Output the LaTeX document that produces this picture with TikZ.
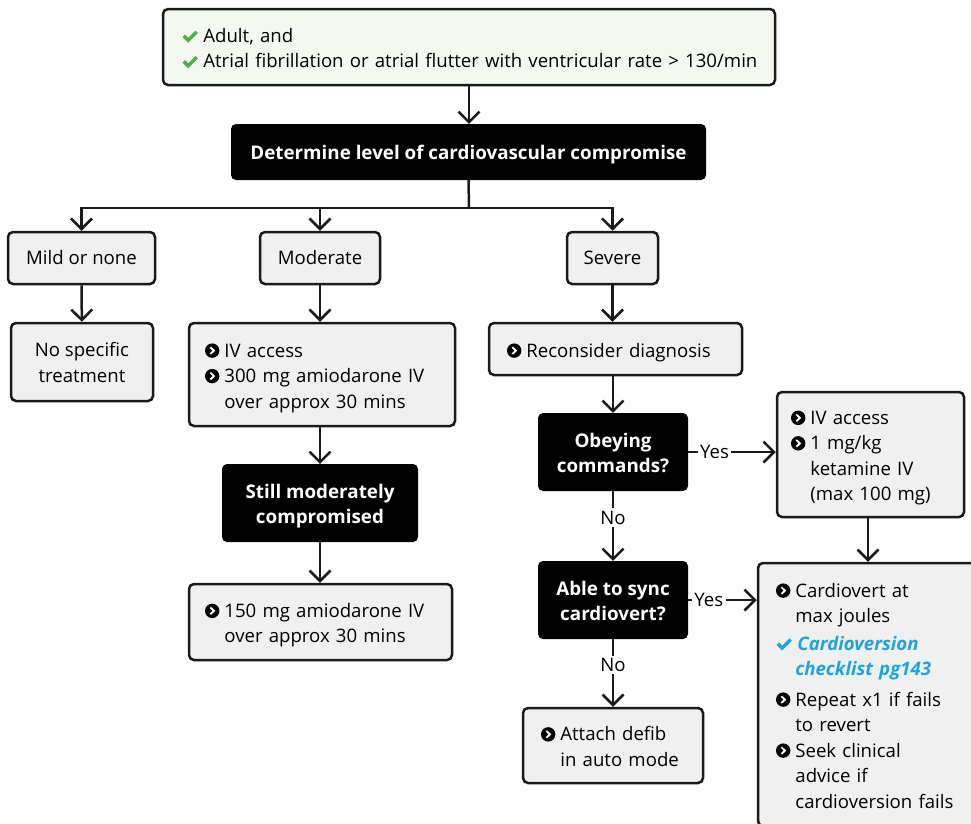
\documentclass[tikz,border=0pt]{standalone}
\usepackage{fontspec}
\setmainfont{Open Sans}
\usetikzlibrary{arrows.meta}
\definecolor{boxfill}{HTML}{F0F0F0}
\definecolor{topfill}{HTML}{F3F8F1}
\definecolor{tickgreen}{HTML}{4DAF4A}
\definecolor{linkblue}{HTML}{1CA4E0}
\definecolor{edge}{HTML}{1A1A1A}
% round black bullet with a white chevron
\newcommand\bul{\tikz[baseline=-6.5pt,x=1pt,y=1pt,sharp corners]{\fill[black] (0,0) circle (7.2);
  \draw[white,line width=1.9pt,miter limit=4] (-1.9,3.4) -- (1.7,0) -- (-1.9,-3.4);}\hspace{5pt}}
\newcommand\ind{\hphantom{\bul}}
% check mark
\newcommand\tick[1][tickgreen]{\tikz[baseline=0pt,x=1pt,y=1pt,sharp corners]{\draw[#1,line width=3.4pt] (0.5,6.5) -- (5,2) -- (13.5,10.5);}\hspace{5pt}}
% stacked lines, nudged down to sit optically centred in their box
\newcommand\lines[1]{\raisebox{-3pt}[\height][\depth]{\begin{tabular}{@{}l@{}}#1\end{tabular}}}
\newcommand\clines[1]{\raisebox{-2.5pt}[\height][\depth]{\begin{tabular}{@{}c@{}}#1\end{tabular}}}
\begin{document}
\begin{tikzpicture}[x=1pt,y=-1pt,
  txt/.style={font=\fontsize{18.6}{25.5}\selectfont},
  box/.style={txt,draw=edge,line width=2.5pt,rounded corners=5pt,fill=boxfill,inner sep=0pt,align=center},
  lbox/.style={box,align=left},
  dark/.style={txt,fill=black,rounded corners=5pt,inner sep=0pt,align=center,text=white,font=\fontsize{18.8}{25}\selectfont\bfseries},
  arr/.style={line width=2.5pt,draw=edge,-{Straight Barb[length=10.5pt,width=21pt]}},
  link/.style={line width=2.5pt,draw=edge},
  lbl/.style={txt,fill=white,inner sep=2.5pt}]
\useasboundingbox (0,0) rectangle (971,823);

% entry criteria
\node[lbox,fill=topfill,minimum width=612pt,minimum height=76pt,text width=574pt,inner xsep=19pt] (top) at (469,47)
  {\lines{\tick Adult, and\\ \tick Atrial fibrillation or atrial flutter with ventricular rate > 130/min}};
\node[dark,minimum width=475pt,minimum height=56pt] (level) at (468.5,152) {\clines{Determine level of cardiovascular compromise}};

% three grades
\node[box,minimum width=147pt,minimum height=52pt] (mild) at (81.5,258) {Mild or none};
\node[box,minimum width=120pt,minimum height=52pt] (moderate) at (320,258) {Moderate};
\node[box,minimum width=91pt,minimum height=52pt] (severe) at (612.5,258) {Severe};

% mild branch
\node[box,minimum width=142pt,minimum height=78pt] (nospec) at (82,362) {\clines{No specific\\treatment}};

% moderate branch
\node[lbox,minimum width=266pt,minimum height=103pt,text width=234pt,inner xsep=16pt] (iv1) at (322,374.5)
  {\lines{\bul IV access\\ \bul 300 mg amiodarone IV\\ \ind over approx 30 mins}};
\node[dark,minimum width=196pt,minimum height=78pt] (still) at (320,503) {\clines{Still moderately\\compromised}};
\node[lbox,minimum width=263pt,minimum height=76pt,text width=231pt,inner xsep=16pt] (amio) at (320.5,622)
  {\lines{\bul 150 mg amiodarone IV\\ \ind over approx 30 mins}};

% severe branch
\node[lbox,minimum width=253pt,minimum height=52pt,text width=217pt,inner xsep=18pt] (recon) at (615.5,349)
  {\lines{\bul Reconsider diagnosis}};
\node[dark,minimum width=150pt,minimum height=78pt] (obey) at (613,452) {\clines{Obeying\\commands?}};
\node[lbox,minimum width=187pt,minimum height=125pt,text width=159pt,inner xsep=14pt] (ket) at (870.5,454.5)
  {\lines{\bul IV access\\ \bul 1 mg/kg\\ \ind ketamine IV\\ \ind (max 100 mg)}};
\node[dark,minimum width=150pt,minimum height=78pt] (sync) at (613,600) {\clines{Able to sync\\cardiovert?}};
\node[lbox,minimum width=218pt,minimum height=263pt,text width=182pt,inner xsep=18pt] (cardio) at (867,694.5)
  {\lines{\bul Cardiovert at\\ \ind max joules\\[2pt]
   {\color{linkblue}\tick[linkblue]\bfseries\itshape Cardioversion}\\
   \ind{\color{linkblue}\bfseries\itshape checklist pg143}\\[5pt]
   \bul Repeat x1 if fails\\ \ind to revert\\ \bul Seek clinical\\ \ind advice if\\ \ind cardioversion fails}};
\node[lbox,minimum width=180pt,minimum height=75pt,text width=144pt,inner xsep=18pt] (defib) at (613,745.5)
  {\lines{\bul Attach defib\\ \ind in auto mode}};

% connectors
\draw[arr] (top.south) -- (top.south |- level.north);
\coordinate (split) at (469,208);
\draw[link] (level.south) -- (split);
\draw[arr] (split) -| (mild.north);
\draw[arr] (split) -| (severe.north);
\draw[arr] (moderate.north |- split) -- (moderate.north);
\draw[arr] (mild) -- (nospec);
\draw[arr] (moderate.south) -- (moderate.south |- iv1.north);
\draw[arr] (iv1.south -| still.north) -- (still.north);
\draw[arr] (still.south) -- (still.south |- amio.north);
\draw[arr] (severe.south) -- (severe.south |- recon.north);
\draw[arr] (recon.south -| obey.north) -- (obey.north);
\draw[arr] (obey.east) -- node[lbl,pos=0.3] {Yes} (obey.east -| ket.west);
\draw[arr] (obey.south) -- node[lbl,pos=0.38] {No} (sync.north);
\draw[arr] (ket.south -| 868,0) -- (868,0 |- cardio.north);
\draw[arr] (sync.east) -- node[lbl,pos=0.3] {Yes} (sync.east -| cardio.west);
\draw[arr] (sync.south) -- node[lbl,pos=0.38] {No} (defib.north);
\end{tikzpicture}
\end{document}
